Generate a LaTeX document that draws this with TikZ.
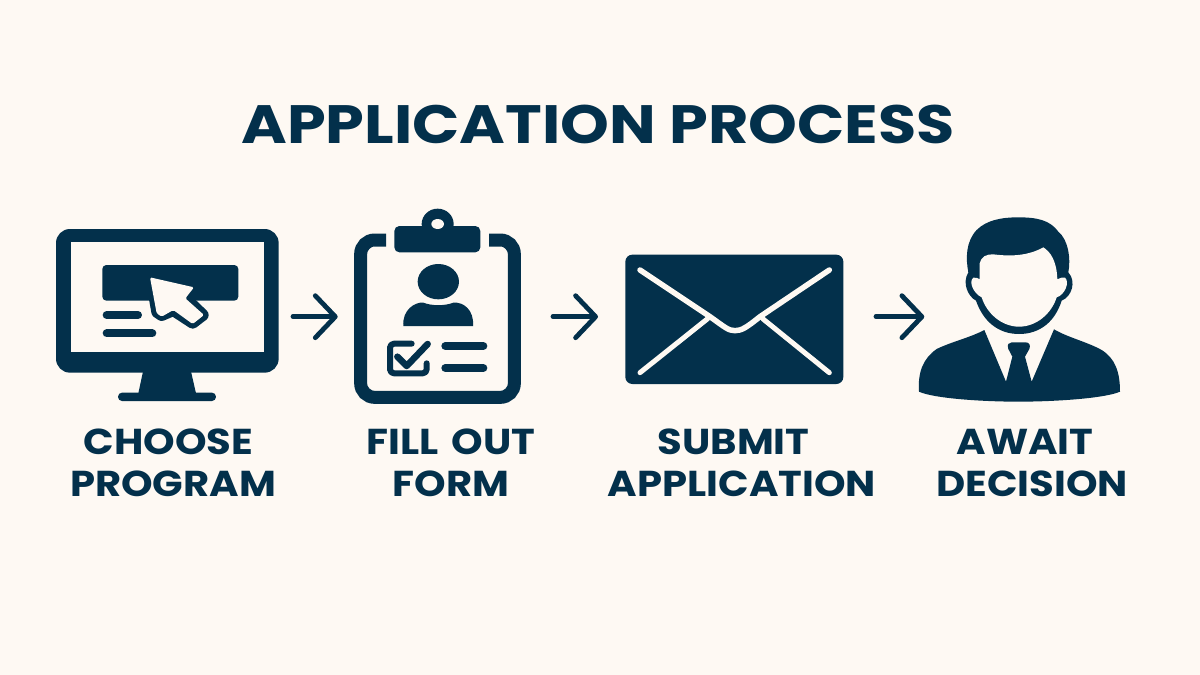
\documentclass[tikz,border=0pt]{standalone}
\usepackage{fontspec}
\setmainfont{Poppins}
\newfontfamily\ttlfont[FakeStretch=1.15]{Poppins}
\newfontfamily\lblfont[FakeStretch=1.115]{Poppins}
\usetikzlibrary{arrows.meta}
\definecolor{navy}{HTML}{03304B}
\definecolor{paper}{HTML}{FEF9F3}
\tikzset{
  ttl/.style={font=\ttlfont\fontsize{54}{60}\selectfont\bfseries,text=navy,inner sep=0pt,anchor=center},
  lbl/.style={font=\lblfont\fontsize{36}{42}\selectfont\bfseries,text=navy,inner sep=0pt,align=center,anchor=center},
  flow/.style={draw=navy,line width=4.8pt,line cap=round,line join=round,-{Straight Barb[length=20pt,width=42pt,round,line width=4.8pt]}},
  ink/.style={fill=navy,draw=none},
  sheet/.style={fill=paper,draw=none},
  bar/.style={draw=navy,line width=8pt,line cap=round},
  cut/.style={draw=paper,line width=5.5pt,line cap=round,line join=round},
  zoomed/.style={x=0.33333pt,y=-0.33333pt}
}
\begin{document}
\begin{tikzpicture}[x=1pt,y=-1pt]
\useasboundingbox (0,0) rectangle (1200,675);
\fill[paper] (0,0) rectangle (1200,675);
\node[ttl] (title) at (598,124) {APPLICATION PROCESS};

% monitor
\begin{scope}[shift={(40,200)},zoomed]
\fill[ink,rounded corners=14pt] (48,87) rectangle (716,518);
\fill[sheet] (92,125) rectangle (672,455);
\fill[ink] (310,510) -- (452,510) -- (468,580) -- (295,580) -- cycle;
\fill[ink,rounded corners=4pt] (234,578) rectangle (528,603);
\fill[ink,rounded corners=4pt] (187,195) rectangle (595,302);
\draw[bar] (200,345) -- (294,345);
\draw[bar] (200,400) -- (337,400);
\draw[draw=navy,line width=12pt,line join=round]
  (335,240) -- (455,265) -- (436,295) -- (488,345) -- (458,368) -- (400,330) -- (365,345) -- (352,336) -- cycle;
\fill[sheet,rounded corners=1.5pt]
  (330,232) -- (462,262) -- (436,295) -- (492,345) -- (458,372) -- (400,330) -- (365,350) -- (350,340) -- cycle;
\end{scope}

% clipboard
\begin{scope}[shift={(340,200)},zoomed]
\draw[navy,line width=13pt,rounded corners=14pt] (138,120) -- (62,120) -- (62,592) -- (523,592) -- (523,120) -- (447,120);
\fill[ink] (293,72) circle [x radius=48,y radius=46];
\fill[ink,rounded corners=5pt] (163,78) rectangle (421,157);
\fill[sheet] (293,72) circle [x radius=19,y radius=15];
\fill[ink] (295,245) circle [x radius=62,y radius=53];
\fill[ink] (190,378) .. controls (186,330) and (225,305) .. (250,308) .. controls (275,318) and (315,318) .. (340,308) .. controls (370,305) and (403,330) .. (399,378) -- cycle;
\draw[navy,line width=6pt,line cap=round,line join=round,rounded corners=4pt] (215,431) -- (150,431) -- (150,520) -- (260,520) -- (260,490);
\draw[navy,line width=6.5pt,line cap=round,line join=round] (172,470) -- (200,498) -- (263,432);
\draw[bar] (316,438) -- (430,438);
\draw[bar] (316,504) -- (430,504);
\end{scope}

% envelope
\begin{scope}[shift={(610,240)},zoomed]
\fill[ink,rounded corners=7pt] (46,44) rectangle (700,432);
\draw[cut] (90,90) -- (300,230) .. controls (345,262) and (355,272) .. (375,272) .. controls (395,272) and (410,262) .. (450,230) -- (658,90);
\draw[cut,line width=5pt] (90,398) -- (293,236);
\draw[cut,line width=5pt] (658,398) -- (458,236);
\end{scope}

% person
\begin{scope}[shift={(905,185)},zoomed]
\fill[ink] (342,447) .. controls (280,447) and (235,410) .. (213,347)
  .. controls (190,335) and (170,295) .. (190,262)
  .. controls (182,220) and (182,170) .. (215,135)
  .. controls (245,105) and (290,97) .. (340,97)
  .. controls (395,97) and (435,105) .. (460,140)
  .. controls (490,165) and (498,220) .. (490,262)
  .. controls (515,290) and (500,335) .. (470,347)
  .. controls (450,410) and (405,447) .. (342,447) -- cycle;
\fill[sheet] (342,425) .. controls (290,425) and (245,385) .. (230,337)
  .. controls (205,325) and (190,290) .. (205,278)
  .. controls (212,276) and (220,280) .. (224,283)
  -- (224,235) .. controls (228,215) and (245,207) .. (265,208)
  .. controls (320,215) and (370,212) .. (415,187)
  .. controls (435,200) and (455,225) .. (457,283)
  .. controls (465,280) and (472,275) .. (480,278)
  .. controls (495,290) and (480,330) .. (455,337)
  .. controls (440,385) and (395,425) .. (342,425) -- cycle;
\fill[ink] (238,435) -- (303,590) -- (322,515) -- (310,492)
  .. controls (305,478) and (312,472) .. (320,472) -- (362,472)
  .. controls (372,472) and (378,480) .. (373,492) -- (360,515) -- (380,590) -- (447,433)
  .. controls (490,458) and (545,470) .. (590,495)
  .. controls (630,520) and (645,560) .. (645,620)
  .. controls (600,640) and (450,650) .. (340,650)
  .. controls (230,650) and (85,640) .. (42,620)
  .. controls (38,560) and (55,520) .. (95,492)
  .. controls (140,470) and (195,458) .. (238,435) -- cycle;
\end{scope}

% labels
\node[lbl] (l1) at (173,463) {CHOOSE\kern9pt\\PROGRAM};
\node[lbl] (l2) at (451,463) {FILL\kern4pt{} OUT\\FORM};
\node[lbl] (l3) at (742,463) {SUBMIT\kern17pt\\APPLICATION};
\node[lbl] (l4) at (1032,463) {AWAIT\kern14pt\\DECISION};

% connectors
\coordinate (a1) at (293,316.7);   \coordinate (b1) at (337.7,316.7);
\coordinate (a2) at (553,316.7);   \coordinate (b2) at (598,316.7);
\coordinate (a3) at (876,316.7);   \coordinate (b3) at (924.3,316.7);
\draw[flow] (a1) -- (b1);
\draw[flow] (a2) -- (b2);
\draw[flow] (a3) -- (b3);
\end{tikzpicture}
\end{document}
